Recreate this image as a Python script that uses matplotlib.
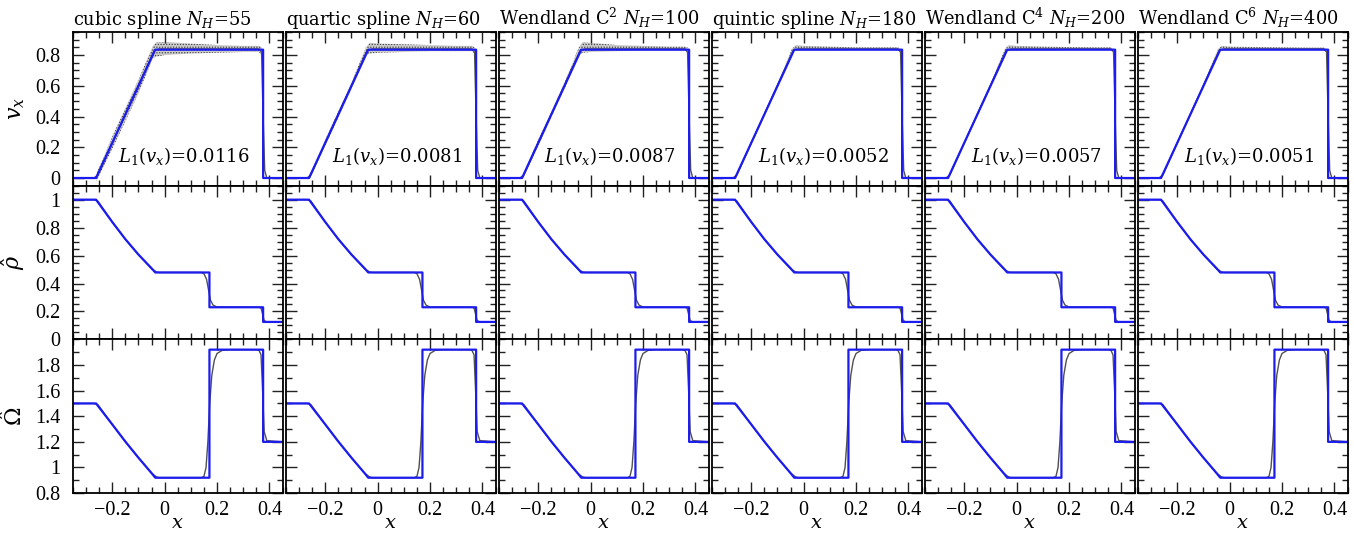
import matplotlib
matplotlib.use("Agg")
import matplotlib.pyplot as plt
from matplotlib.ticker import MultipleLocator, FixedLocator, FuncFormatter

outputFile = "out.png"

plt.rcParams['font.family'] = ['Liberation Serif', 'DejaVu Serif']
plt.rcParams['mathtext.fontset'] = 'dejavuserif'
plt.rcParams['hatch.linewidth'] = 0.6

# panel titles and L1 errors
titles = [r"cubic spline $N_H$=55", r"quartic spline $N_H$=60", r"Wendland C$^2$ $N_H$=100",
          r"quintic spline $N_H$=180", r"Wendland C$^4$ $N_H$=200", r"Wendland C$^6$ $N_H$=400"]
l1_values = ["0.0116", "0.0081", "0.0087", "0.0052", "0.0057", "0.0051"]

# exact solution (blue)
x_exact_vx = [-0.35, -0.262, -0.036, 0.376, 0.376, 0.45]
vx_exact = [0.0, 0.0, 0.835, 0.835, 0.0, 0.0]
x_exact = [-0.35, -0.262, -0.2, -0.15, -0.1, -0.05, -0.036, 0.171, 0.171, 0.376, 0.376, 0.45]
rho_exact = [1.0, 1.0, 0.84, 0.717, 0.607, 0.509, 0.479, 0.479, 0.23, 0.23, 0.125, 0.125]
u_exact = [1.5, 1.5, 1.336, 1.202, 1.076, 0.956, 0.92, 0.92, 1.92, 1.92, 1.2, 1.2]

# particle data (grey)
x_sph_vx = [-0.35, -0.27, -0.255, -0.04, -0.02, 0.36, 0.37, 0.376, 0.382, 0.39, 0.45]
vx_sph = [0.0, 0.0, 0.02, 0.83, 0.84, 0.84, 0.82, 0.4, 0.05, 0.0, 0.0]
x_sph_rho = [-0.35, -0.27, -0.255, -0.2, -0.15, -0.1, -0.05, -0.03, -0.02, 0.14, 0.15, 0.16, 0.168,
             0.175, 0.185, 0.2, 0.36, 0.368, 0.374, 0.38, 0.39, 0.45]
rho_sph = [1.0, 1.0, 0.99, 0.84, 0.717, 0.607, 0.505, 0.482, 0.479, 0.479, 0.47, 0.43, 0.35,
           0.28, 0.245, 0.232, 0.23, 0.225, 0.18, 0.135, 0.125, 0.125]
x_sph_u = [-0.35, -0.27, -0.255, -0.2, -0.15, -0.1, -0.05, -0.03, -0.02, 0.14, 0.15, 0.158, 0.165,
           0.172, 0.18, 0.19, 0.2, 0.22, 0.25, 0.35, 0.36, 0.368, 0.374, 0.38, 0.39, 0.45]
u_sph = [1.5, 1.5, 1.49, 1.336, 1.202, 1.076, 0.956, 0.925, 0.92, 0.92, 0.93, 1.0, 1.2,
         1.5, 1.72, 1.84, 1.89, 1.915, 1.92, 1.92, 1.915, 1.88, 1.6, 1.28, 1.21, 1.2]

# scatter envelope of v_x for each kernel
x_band = [-0.26, -0.2, -0.1, -0.045, -0.03, 0.0, 0.1, 0.2, 0.3, 0.36, 0.37]
vx_upper = [
    [0.03, 0.27, 0.64, 0.86, 0.885, 0.885, 0.875, 0.865, 0.86, 0.86, 0.85],
    [0.02, 0.25, 0.62, 0.85, 0.88, 0.875, 0.87, 0.865, 0.86, 0.86, 0.85],
    [0.02, 0.25, 0.62, 0.85, 0.885, 0.88, 0.865, 0.86, 0.855, 0.855, 0.85],
    [0.01, 0.24, 0.61, 0.84, 0.865, 0.86, 0.855, 0.85, 0.85, 0.85, 0.84],
    [0.01, 0.24, 0.61, 0.84, 0.865, 0.86, 0.855, 0.852, 0.85, 0.85, 0.84],
    [0.01, 0.24, 0.61, 0.84, 0.86, 0.855, 0.852, 0.85, 0.848, 0.848, 0.84],
]
vx_lower = [
    [-0.02, 0.19, 0.55, 0.78, 0.79, 0.80, 0.81, 0.815, 0.82, 0.82, 0.80],
    [-0.01, 0.21, 0.58, 0.80, 0.81, 0.815, 0.82, 0.825, 0.825, 0.825, 0.81],
    [-0.01, 0.21, 0.58, 0.80, 0.815, 0.82, 0.825, 0.83, 0.83, 0.83, 0.81],
    [-0.005, 0.22, 0.59, 0.82, 0.83, 0.83, 0.83, 0.832, 0.832, 0.832, 0.82],
    [-0.005, 0.22, 0.59, 0.82, 0.825, 0.828, 0.83, 0.832, 0.832, 0.832, 0.82],
    [-0.005, 0.22, 0.59, 0.82, 0.83, 0.83, 0.832, 0.832, 0.832, 0.832, 0.82],
]

blue = '#1c1cf0'
grey = '#505050'

W, H = 1354, 533
left0, top0, pw, ph, gap = 73, 32, 209.5, 153.7, 3.5


def fmt(v, pos):
    return ('%g' % v).replace('-', '\u2212')


def style(ax, row, col):
    ax.set_xlim(-0.35, 0.45)
    ax.xaxis.set_major_locator(MultipleLocator(0.2))
    ax.xaxis.set_minor_locator(MultipleLocator(0.05))
    if row == 0:
        ax.set_ylim(-0.05, 0.95)
        ax.yaxis.set_major_locator(MultipleLocator(0.2))
        ax.yaxis.set_minor_locator(MultipleLocator(0.05))
    elif row == 1:
        ax.set_ylim(0, 1.1)
        ax.yaxis.set_major_locator(FixedLocator([0, 0.2, 0.4, 0.6, 0.8, 1.0]))
        ax.yaxis.set_minor_locator(MultipleLocator(0.05))
    else:
        ax.set_ylim(0.8, 2.0)
        ax.yaxis.set_major_locator(FixedLocator([0.8, 1.0, 1.2, 1.4, 1.6, 1.8]))
        ax.yaxis.set_minor_locator(MultipleLocator(0.1))
    ax.tick_params(which='both', direction='in', top=True, right=True, width=1.0, color='#222222',
                   labelsize=14.5)
    ax.tick_params(which='major', length=8)
    ax.tick_params(which='minor', length=4)
    ax.tick_params(axis='x', pad=6)
    ax.tick_params(axis='y', pad=9)
    for s in ax.spines.values():
        s.set_linewidth(1.3)
    ax.xaxis.set_major_formatter(FuncFormatter(fmt))
    ax.yaxis.set_major_formatter(FuncFormatter(fmt))
    if col != 0:
        ax.tick_params(labelleft=False)
    if row != 2:
        ax.tick_params(labelbottom=False)
    else:
        ax.set_xlabel(r"$x$", fontsize=14, family='DejaVu Serif', va='baseline')
        ax.xaxis.set_label_coords(0.5, -0.226)


fig = plt.figure(figsize=(W / 100, H / 100), dpi=100)
ylabels = [r"$v_x$", r"$\hat{\rho}$", r"$\hat{\Omega}$"]

for col in range(6):
    x0 = left0 + col * (pw + gap)
    for row in range(3):
        y0 = top0 + row * ph
        ax = fig.add_axes([x0 / W, 1 - (y0 + ph) / H, pw / W, ph / H])
        style(ax, row, col)
        if row == 0:
            ax.fill_between(x_band, vx_lower[col], vx_upper[col], facecolor='#9a9a9a', alpha=0.5,
                            linewidth=0)
            ax.fill_between(x_band, vx_lower[col], vx_upper[col], facecolor='none', hatch='......',
                            edgecolor='#444444', linewidth=0)
            ax.plot(x_sph_vx, vx_sph, color=grey, lw=1.0)
            ax.plot(x_exact_vx, vx_exact, color=blue, lw=1.6)
            ax.text(0.53, 0.19, r"$L_1(v_x)$=" + l1_values[col], transform=ax.transAxes,
                    ha='center', va='center', fontsize=13, family='DejaVu Serif')
            ax.set_title(titles[col], loc='left', fontsize=12.8, pad=5, family='DejaVu Serif')
        elif row == 1:
            ax.plot(x_sph_rho, rho_sph, color=grey, lw=1.0)
            ax.plot(x_exact, rho_exact, color=blue, lw=1.6)
        else:
            ax.plot(x_sph_u, u_sph, color=grey, lw=1.0)
            ax.plot(x_exact, u_exact, color=blue, lw=1.6)
        if col == 0:
            ax.set_ylabel(ylabels[row], fontsize=16, family='DejaVu Serif')
            ax.yaxis.set_label_coords(-0.22, 0.5)

fig.savefig(outputFile, dpi=100)
